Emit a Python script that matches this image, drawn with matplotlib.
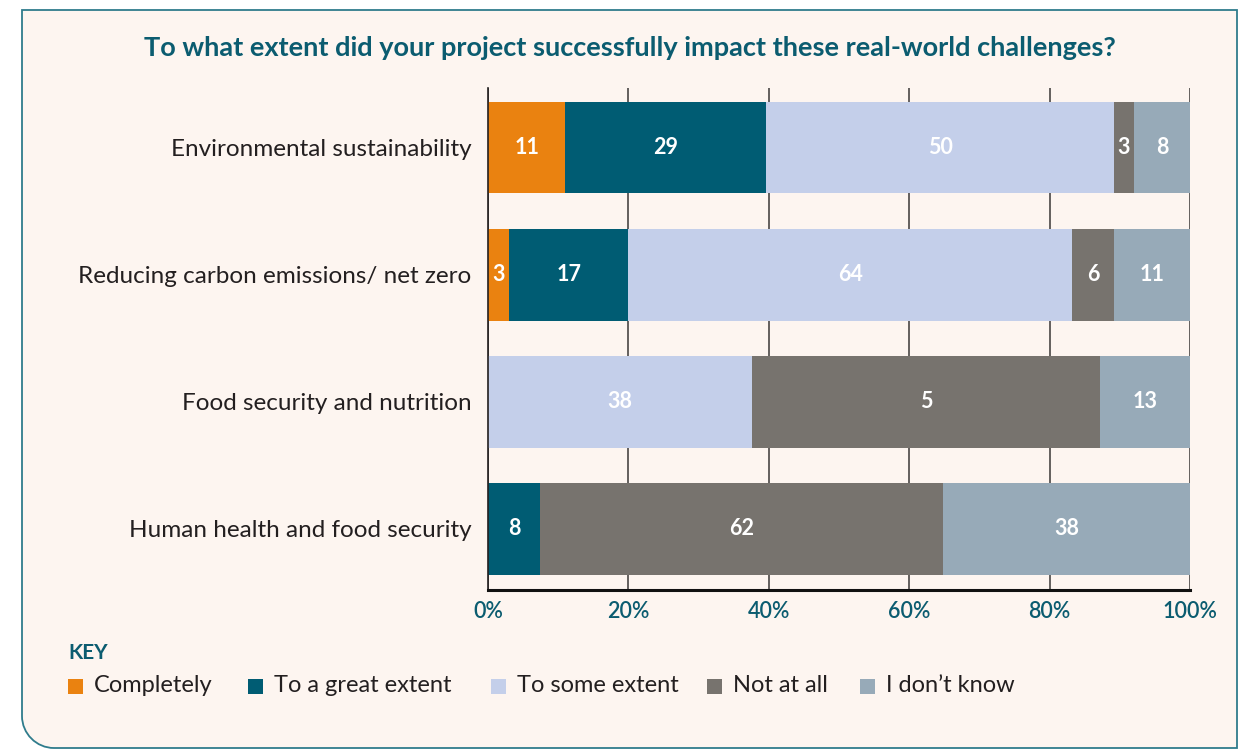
import matplotlib
matplotlib.use("Agg")
import matplotlib.pyplot as plt
from matplotlib.path import Path
from matplotlib.patches import PathPatch, Rectangle
import numpy as np

plt.rcParams['font.family'] = ['Lato', 'DejaVu Sans']

title = "To what extent did your project successfully impact these real-world challenges?"
categories = ["Environmental sustainability", "Reducing carbon emissions/ net zero",
              "Food security and nutrition", "Human health and food security"]
series = ["Completely", "To a great extent", "To some extent", "Not at all", "I don\u2019t know"]
# segment widths as drawn (percent)
completely = [11, 3, 0, 0]
great_extent = [28.6, 17, 0, 7.4]
some_extent = [49.6, 63.2, 37.6, 0]
not_at_all = [2.8, 6, 49.6, 57.4]
dont_know = [8, 10.8, 12.8, 35.2]
# printed labels
lab_completely = ["11", "3", "", ""]
lab_great_extent = ["29", "17", "", "8"]
lab_some_extent = ["50", "64", "38", ""]
lab_not_at_all = ["3", "6", "5", "62"]
lab_dont_know = ["8", "11", "13", "38"]
xticks = [0, 20, 40, 60, 80, 100]

colors = ["#EA8210", "#005C73", "#C4CFEA", "#77736E", "#97AAB8"]
BG = "#FDF5F0"
TEAL = "#0B5C70"
TXT = "#231F20"

W, H = 1243, 750
fig = plt.figure(figsize=(W / 100, H / 100), dpi=100)
fig.patch.set_facecolor("white")

def fx(px):
    return px / W
def fy(py):
    return 1 - py / H

# panel with square top corners and rounded bottom-left
r = 32
x0, x1, y0, y1 = 22, 1237, 10, 748
verts = [(x0, y0), (x1, y0), (x1, y1), (x0 + r, y1),
         (x0 + r * 0.45, y1), (x0, y1 - r * 0.45), (x0, y1 - r), (x0, y0)]
codes = [Path.MOVETO, Path.LINETO, Path.LINETO, Path.LINETO,
         Path.CURVE4, Path.CURVE4, Path.CURVE4, Path.CLOSEPOLY]
verts_f = [(fx(a), fy(b)) for a, b in verts]
panel = PathPatch(Path(verts_f, codes), facecolor=BG, edgecolor="#2F7C8C",
                  lw=1.3, transform=fig.transFigure, zorder=-5)
fig.patches.append(panel)

ax = fig.add_axes([fx(488), fy(590), fx(1190) - fx(488), fy(88) - fy(590)])
ax.set_zorder(2)
ax.set_facecolor("none")
ax.set_xlim(0, 100)
ax.set_ylim(3.48, -0.47)

data = [completely, great_extent, some_extent, not_at_all, dont_know]
labels = [lab_completely, lab_great_extent, lab_some_extent, lab_not_at_all, lab_dont_know]
y = np.arange(len(categories))
left = np.zeros(len(categories))
for vals, labs, col in zip(data, labels, colors):
    vals = np.array(vals, dtype=float)
    ax.barh(y, vals, left=left, height=0.72, color=col, zorder=3)
    for i, (v, l) in enumerate(zip(vals, labs)):
        if v > 0 and l:
            ax.text(left[i] + v / 2, y[i], l, ha="center", va="center",
                    color="white", fontsize=15.5, fontweight="bold", zorder=4)
    left += vals

for xt in xticks:
    ax.axvline(xt, color="#4A4645", lw=1.2, zorder=1)

ax.set_yticks(y)
ax.set_yticklabels(categories, fontsize=17.5, color=TXT)
ax.set_xticks(xticks)
ax.set_xticklabels([f"{t}%" for t in xticks], fontsize=15.5, color=TEAL,
                   fontweight="semibold")
ax.tick_params(axis="x", length=0, pad=8)
ax.tick_params(axis="y", length=0, pad=12)
for s in ["top", "right"]:
    ax.spines[s].set_visible(False)
ax.spines["left"].set_color("#231F20")
ax.spines["left"].set_linewidth(1.2)
ax.spines["bottom"].set_color("#111111")
ax.spines["bottom"].set_linewidth(2.2)
ax.spines["left"].set_zorder(5)
ax.spines["bottom"].set_zorder(5)

fig.text(fx(630), fy(48), title, ha="center", va="center", fontsize=19.5,
         fontweight="bold", color=TEAL)

fig.text(fx(68), fy(653), "KEY", ha="left", va="center", fontsize=15,
         fontweight="bold", color=TEAL)
key_x = [68, 248, 491, 707, 860]
for name, col, kx in zip(series, colors, key_x):
    fig.patches.append(Rectangle((fx(kx), fy(694)), fx(15), 15 / H, facecolor=col,
                                 edgecolor="none", transform=fig.transFigure, zorder=2))
    fig.text(fx(kx + 26), fy(686), name, ha="left", va="center", fontsize=17,
             color=TXT)

fig.savefig("out.png", dpi=100, facecolor=fig.get_facecolor())
